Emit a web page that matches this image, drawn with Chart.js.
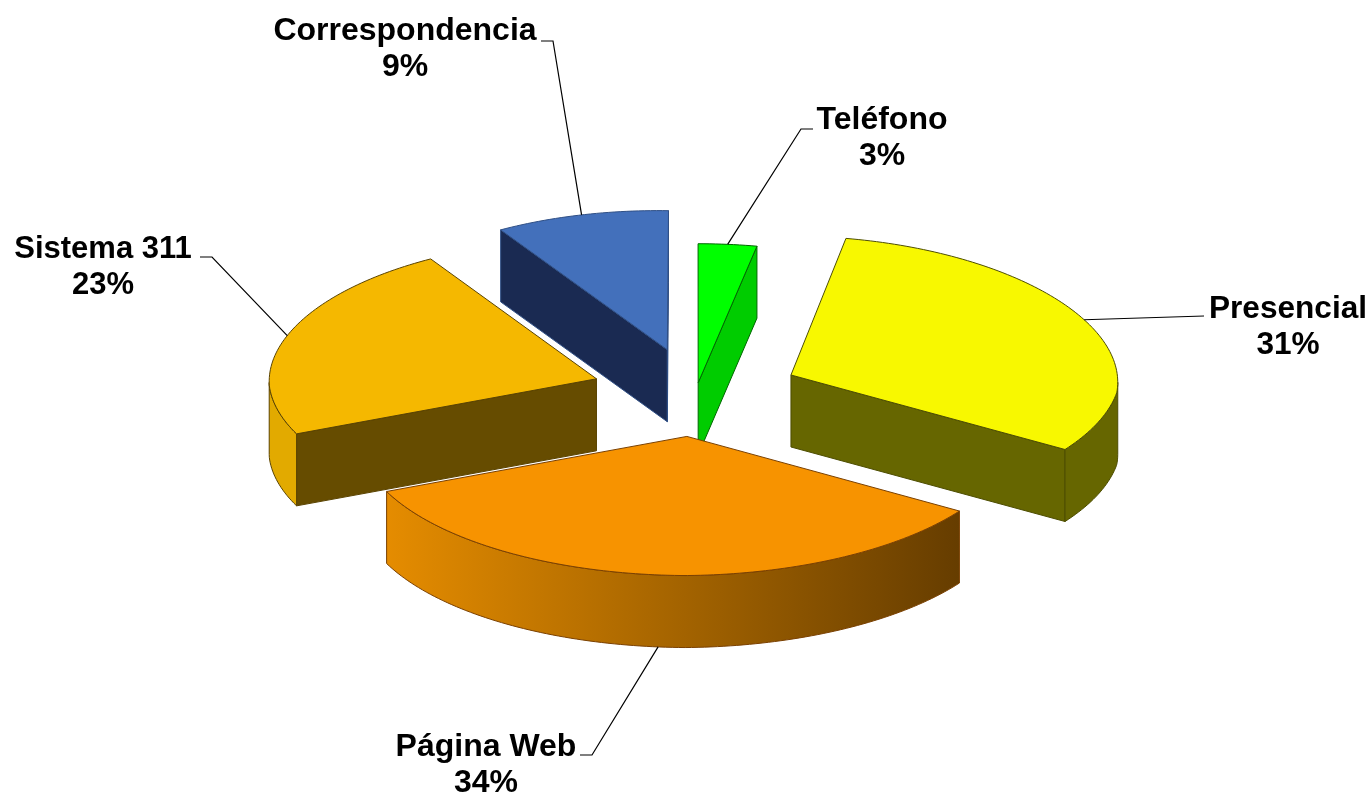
<!DOCTYPE html>
<html><head><meta charset="utf-8">
<style>html,body{margin:0;padding:0;background:#fff}canvas{display:block}</style>
<script src="https://cdn.jsdelivr.net/npm/chart.js@4"></script>
</head><body><canvas id="c" width="1372" height="795"></canvas>
<script>
const categories = ["Teléfono","Presencial","Página Web","Sistema 311","Correspondencia"];
const shares = [3,31,34,23,9];
const explode = [23,104,104,104,104];
const topColors = ["#00ff00","#f8f800","#f79300","#f5b800","#4370bb"];
const sideColors = ["#00cc00","#666600","#663d00","#664c00","#1a2a52"];
const rimLeft = ["#00cc00","#666600","#e58c00","#e2aa00","#1a2a52"];
const rimRight = ["#00cc00","#666600","#663d00","#e2aa00","#1a2a52"];
const edgeColors = ["#006600","#4d4d00","#7a4000","#5a4300","#2f4f85"];
const labelBoxes = [
  {x:882,y:120,ex:801,ey:129,tx:813,size:32},
  {x:1288,y:309,ex:1204,ey:316,tx:1204,size:31.6},
  {x:486,y:747,ex:592,ey:755,tx:580,size:32},
  {x:103,y:249,ex:212,ey:257,tx:200,size:31},
  {x:405,y:31,ex:553,ey:41,tx:541,size:32}
];
const DEPTH=72, TILT=0.424, PERSP=0.04, SKEW=0.025, SHEAR=0.014, LINE=36.5;

function project(el,gx,gy,z){
  const R=el.outerRadius;
  const px=gy<0?gx*(1+PERSP*gy/R):gx;
  return [el.x+px-SKEW*Math.max(gy,0), el.y+gy*TILT+SHEAR*Math.min(gx,0)+z];
}
function rimPts(el,ox,oy,a,b,z){
  const n=Math.max(2,Math.ceil(Math.abs(b-a)/0.02)),pts=[];
  for(let i=0;i<=n;i++){
    const t=a+(b-a)*i/n;
    pts.push(project(el,ox+Math.cos(t)*el.outerRadius,oy+Math.sin(t)*el.outerRadius,z));
  }
  return pts;
}
function poly(ctx,pts,fill,stroke){
  ctx.beginPath();
  pts.forEach((p,i)=>i?ctx.lineTo(p[0],p[1]):ctx.moveTo(p[0],p[1]));
  ctx.closePath();
  ctx.fillStyle=fill;ctx.fill();
  ctx.strokeStyle=stroke;ctx.lineWidth=1;ctx.stroke();
}
Chart.ArcElement.prototype.draw=function(ctx){
  const i=this.$context.dataIndex,a=this.startAngle,b=this.endAngle,R=this.outerRadius;
  const mid=(a+b)/2,off=this.options.offset;
  const ox=Math.cos(mid)*off,oy=Math.sin(mid)*off;
  const apex=project(this,ox,oy,0),apexB=project(this,ox,oy,DEPTH);
  const edge=edgeColors[i];
  // radial walls that face the viewer
  [[a,-1],[b,1]].forEach(([t,sgn])=>{
    if(sgn*Math.cos(t)>0){
      const p=project(this,ox+Math.cos(t)*R,oy+Math.sin(t)*R,0);
      const q=[p[0],p[1]+DEPTH];
      poly(ctx,[apex,p,q,apexB],sideColors[i],edge);
    }
  });
  // outer rim on the near half, trimmed to the slice's widest points
  const ra=Math.max(a,-0.4),rb=Math.min(b,Math.PI+0.4);
  if(rb>ra){
    const right=ra<Math.PI/2?rimPts(this,ox,oy,ra,Math.min(rb,Math.PI/2),0):[];
    const left=rb>Math.PI/2?rimPts(this,ox,oy,Math.max(ra,Math.PI/2),rb,0):[];
    const rx=right.map(p=>p[0]),lx=left.map(p=>p[0]);
    const top=right.slice(rx.indexOf(Math.max(...rx)))
      .concat(left.slice(0,lx.indexOf(Math.min(...lx))+1));
    if(top.length>1){
      const bot=top.map(p=>[p[0],p[1]+DEPTH]).reverse();
      const g=ctx.createLinearGradient(top[top.length-1][0],0,top[0][0],0);
      g.addColorStop(0,rimLeft[i]);g.addColorStop(1,rimRight[i]);
      poly(ctx,top.concat(bot),g,edge);
    }
  }
  // top face
  poly(ctx,[apex].concat(rimPts(this,ox,oy,a,b,0)),this.options.backgroundColor,edge);
};
const labelPlugin={id:'labels3d',afterDatasetsDraw(chart){
  const ctx=chart.ctx,arcs=chart.getDatasetMeta(0).data;
  arcs.forEach((el,i)=>{
    const mid=(el.startAngle+el.endAngle)/2,off=el.options.offset,R=el.outerRadius;
    const gx=Math.cos(mid)*(off+R),gy=Math.sin(mid)*(off+R);
    const front=Math.sin(mid)>0.9;
    const p=project(el,gx,gy,front?DEPTH:0),b=labelBoxes[i];
    ctx.beginPath();ctx.moveTo(b.tx,b.ey);ctx.lineTo(b.ex,b.ey);ctx.lineTo(p[0],p[1]);
    ctx.strokeStyle="#000";ctx.lineWidth=1.2;ctx.stroke();
    ctx.fillStyle="#000";ctx.font="bold "+b.size+"px 'Liberation Sans'";
    ctx.textAlign="center";ctx.textBaseline="middle";
    ctx.fillText(categories[i],b.x,b.y);
    ctx.fillText(shares[i]+"%",b.x,b.y+LINE);
  });
}};
new Chart(document.getElementById('c'),{
  type:'pie',
  data:{labels:categories,datasets:[{data:shares,backgroundColor:topColors,offset:explode,radius:328,borderWidth:0}]},
  options:{responsive:false,animation:false,
    layout:{padding:{left:20,bottom:10}},
    plugins:{legend:{display:false},tooltip:{enabled:false}}},
  plugins:[labelPlugin]
});
</script></body></html>
